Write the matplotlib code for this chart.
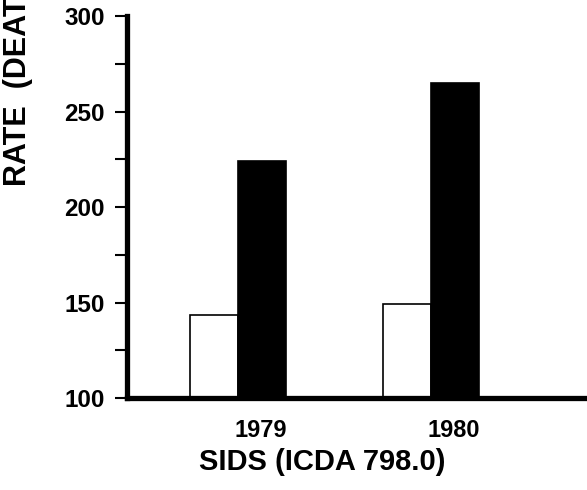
import numpy as np
import matplotlib
matplotlib.use('Agg')
import matplotlib.pyplot as plt
from matplotlib.ticker import MultipleLocator

plt.rcParams['font.family'] = ['Liberation Sans', 'DejaVu Sans']
plt.rcParams['font.weight'] = 'bold'

# data
years = ['1979', '1980']
rate_white = [143.5, 149]
rate_black = [224, 265]

x = np.arange(len(years))
w = 0.25

fig = plt.figure(figsize=(5.87, 4.9), dpi=100)
ax = fig.add_axes([0.2164, 0.1878, 0.7836, 0.779])

ax.bar(x - w / 2, rate_white, w, color='white', edgecolor='black', linewidth=1.2)
ax.bar(x + w / 2, rate_black, w, color='black', edgecolor='black', linewidth=1.2)

ax.set_xlim(-0.575, 1.808)
ax.set_ylim(100, 300)

ax.spines['top'].set_visible(False)
ax.spines['right'].set_visible(False)
ax.spines['left'].set_linewidth(3.8)
ax.spines['bottom'].set_linewidth(3.8)

ax.yaxis.set_major_locator(MultipleLocator(50))
ax.yaxis.set_minor_locator(MultipleLocator(25))
ax.tick_params(axis='y', which='both', direction='out', length=9, width=1.5, pad=7)
ax.tick_params(axis='y', which='major', labelsize=17.5)
for lbl in ax.get_yticklabels():
    lbl.set_fontweight('bold')

# year labels sit a bit to the right of each pair
ax.set_xticks(x + 0.12)
ax.set_xticklabels(years, fontsize=17, fontweight='bold')
ax.tick_params(axis='x', length=0, pad=15)

ax.set_xlabel('SIDS (ICDA 798.0)', fontsize=21, fontweight='bold')
ax.xaxis.set_label_coords(0.424, -0.131)
fig.text(0.031, 0.62, 'RATE  (DEATHS PER 100,000)', rotation=90, fontsize=22,
         fontweight='bold', ha='center', va='bottom')

plt.savefig('out.png', dpi=100)
